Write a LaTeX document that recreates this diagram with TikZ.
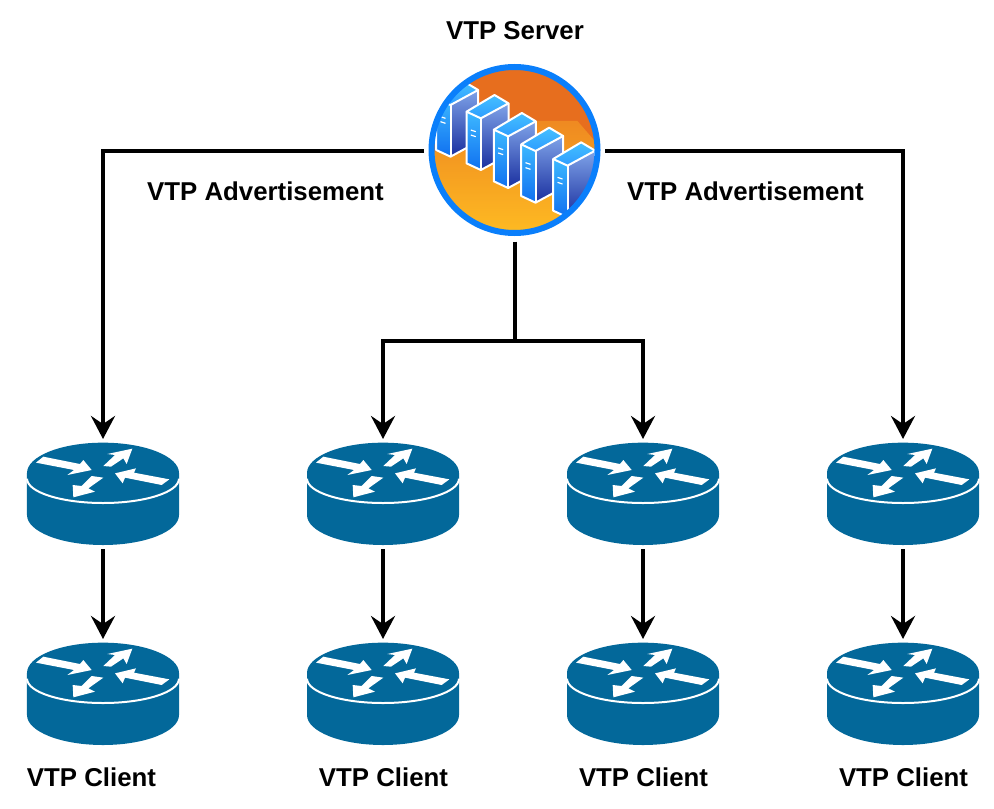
\documentclass[tikz,border=0pt]{standalone}
\usepackage{fontspec}
\setmainfont{Liberation Sans}
\usetikzlibrary{arrows.meta,calc}
\definecolor{routerblue}{HTML}{03689A}
\definecolor{ringblue}{HTML}{0A7FFB}
\definecolor{skyorange}{HTML}{E76E1E}
\definecolor{goldtop}{HTML}{F5A023}
\definecolor{goldbot}{HTML}{FFBE22}
\definecolor{frontlt}{HTML}{3DB8FF}
\definecolor{frontdk}{HTML}{1070F0}
\definecolor{sidelt}{HTML}{7FA3E8}
\definecolor{sidedk}{HTML}{1A2F9F}
\definecolor{toplt}{HTML}{45C0FF}
\definecolor{topdk}{HTML}{2E9CFF}
\tikzset{
  routerbox/.style={rectangle,minimum width=76pt,minimum height=55pt,inner sep=0pt,outer sep=0pt},
  serverbox/.style={circle,minimum size=90.5pt,inner sep=0pt,outer sep=0pt},
  caption/.style={font=\bfseries\fontsize{12.9pt}{15pt}\selectfont,inner sep=0pt},
  flow/.style={line width=2pt,draw=black,-{Stealth[length=11.5pt,width=12pt,inset=4pt]}},
  plainflow/.style={line width=2pt,draw=black},
  artwhite/.style={fill=white,draw=none},
  srvedge/.style={draw=white,line width=1pt,line join=round},
}
\newcommand{\routerart}[1]{%
  \begin{scope}[shift={(#1.center)},x=0.16667pt,y=-0.16667pt,shift={(-264,-282)}]
    \fill[routerblue] (36,219) -- (36,345) arc[start angle=180,end angle=0,x radius=228,y radius=90] -- (492,219) arc[start angle=0,end angle=-180,x radius=228,y radius=91] -- cycle;
    \draw[white,line width=1pt] (36,236) arc[start angle=180,end angle=0,x radius=228,y radius=73];
    \fill[artwhite] (63,188) -- (85,170) -- (195,192) -- (205,180) -- (230,210) -- (157,225) -- (177,210) -- cycle;
    \fill[artwhite] (265,198) -- (300,165) -- (277,162) -- (352,146) -- (335,192) -- (325,175) -- (288,200) -- cycle;
    \fill[artwhite] (463,238) -- (440,255) -- (330,233) -- (323,250) -- (300,220) -- (363,205) -- (357,218) -- cycle;
    \fill[artwhite] (265,233) -- (230,228) -- (200,258) -- (173,255) -- (175,292) -- (240,275) -- (220,265) -- cycle;
  \end{scope}}
\newcommand{\serverunit}[2]{%
  \begin{scope}[shift={(#1,#2)}]
    \shade[top color=frontlt,bottom color=frontdk] (0,0) -- (43,20) -- (43,175) -- (0,155) -- cycle;
    \shade[top color=sidelt,bottom color=sidedk] (43,20) -- (126,-25) -- (126,130) -- (43,175) -- cycle;
    \shade[top color=toplt,bottom color=topdk] (0,0) -- (84,-50) -- (126,-25) -- (43,20) -- cycle;
    \draw[srvedge] (0,0) -- (84,-50) -- (126,-25) -- (43,20) -- cycle;
    \draw[srvedge] (0,0) -- (0,155) -- (43,175) -- (126,130) -- (126,-25);
    \draw[srvedge] (43,20) -- (43,175);
    \draw[white,line width=0.6pt] (13,55) -- (28,60) (13,70) -- (28,75);
  \end{scope}}
\begin{document}
\begin{tikzpicture}[x=0.5pt,y=-0.5pt]
  \useasboundingbox (0,0) rectangle (994,808);
  % nodes
  \node[serverbox] (srv) at (514.5,151) {};
  \foreach \n/\px in {1/103,2/383,3/643,4/903}{
    \node[routerbox] (r\n) at (\px,494) {};
    \node[routerbox] (c\n) at (\px,694) {};
    \routerart{r\n}
    \routerart{c\n}
  }
  % server icon
  \begin{scope}[shift={(srv.center)},x=0.16667pt,y=-0.16667pt,shift={(-296,-288)}]
    \begin{scope}
      \clip (296,285) circle[radius=250];
      \fill[skyorange] (30,20) rectangle (560,560);
      \shade[top color=skyorange!45!goldtop,middle color=goldtop,bottom color=goldbot] (30,290) -- (190,285) -- (365,198) -- (485,198) -- (560,285) -- (560,560) -- (30,560) -- cycle;
      \foreach \ax/\ay in {61/130,152/170,234/224,316/268,412/312}{
        \serverunit{\ax}{\ay}
      }
    \end{scope}
    \draw[ringblue,line width=3pt] (296,285) circle[radius=249];
  \end{scope}
  % connectors
  \coordinate (j) at (srv.south |- 0,341);
  \draw[flow] (srv.west) -| (r1.north);
  \draw[flow] (srv.east) -| (r4.north);
  \draw[plainflow] (srv.south) -- (j);
  \draw[flow] (j) -| (r2.north);
  \draw[flow] (j) -| (r3.north);
  \foreach \n in {1,2,3,4}{
    \draw[flow] (r\n) -- (c\n);
  }
  % labels
  \node[caption] (lsrv) at (515,31) {VTP Server};
  \node[caption] (ladvl) at (265.5,191) {VTP Advertisement};
  \node[caption] (ladvr) at (745.5,191) {VTP Advertisement};
  \node[caption] (lc1) at (91.5,777) {VTP Client};
  \node[caption] (lc2) at (383.5,777) {VTP Client};
  \node[caption] (lc3) at (643.5,777) {VTP Client};
  \node[caption] (lc4) at (903.5,777) {VTP Client};
\end{tikzpicture}
\end{document}
